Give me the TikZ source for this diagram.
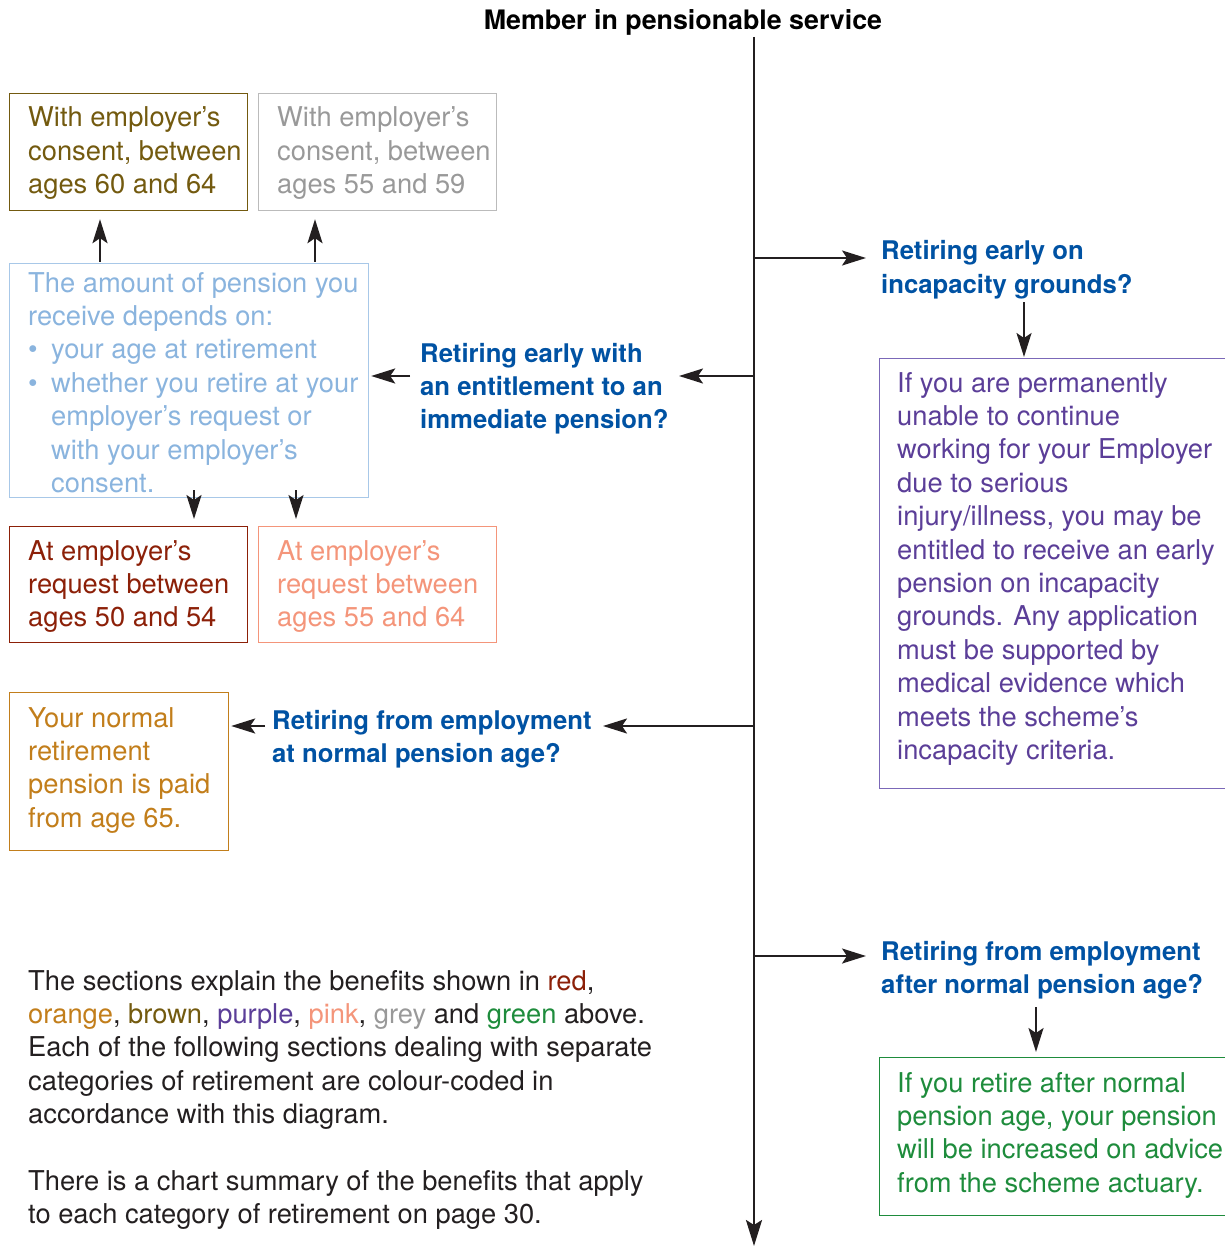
\documentclass[tikz,border=0pt]{standalone}
\usepackage{fontspec}
\setmainfont{TeX Gyre Heros}
\usetikzlibrary{arrows.meta}
\definecolor{ink}{HTML}{231F20}
\definecolor{cblue}{HTML}{0052A3}
\definecolor{cbrown}{HTML}{735A0F}
\definecolor{cgrey}{HTML}{999999}
\definecolor{cgreyb}{HTML}{BBBBBB}
\definecolor{clblue}{HTML}{8AB4DE}
\definecolor{clblueb}{HTML}{A8C8E8}
\definecolor{cred}{HTML}{8C2008}
\definecolor{cpink}{HTML}{F4957A}
\definecolor{corange}{HTML}{C27E1B}
\definecolor{cpurple}{HTML}{5B3E98}
\definecolor{cpurpleb}{HTML}{7B68B8}
\definecolor{cgreen}{HTML}{1E8C3C}
\newcommand{\regf}{\fontsize{27.3}{33.4}\selectfont}
\newcommand{\bldf}{\fontsize{25.7}{33.4}\selectfont\bfseries}
\newcommand{\tb}[1]{\parbox[t]{760pt}{#1}}
\tikzset{
  >={Stealth[length=24pt,width=15pt,inset=5pt]},
  arr/.style={draw=ink, line width=2pt, ->},
  mainline/.style={draw=ink, line width=2.6pt},
  box/.style={rectangle, line width=1.2pt, inner sep=0pt, anchor=north west},
  txt/.style={inner sep=0pt, anchor=base west, font=\regf},
  qtxt/.style={inner sep=0pt, anchor=base west, font=\bldf, text=cblue}}
\begin{document}
\begin{tikzpicture}[x=1pt,y=-1pt]
\useasboundingbox (0,0) rectangle (1224,1246);

% title and main line
\node[inner sep=0pt, anchor=base, font=\bfseries\fontsize{26.8}{30}\selectfont, text=black] (title) at (683,30) {Member in pensionable service};
\coordinate (mtop) at (754,37);
\coordinate (mbot) at (754,1246);
\draw[mainline, -{Stealth[length=26pt,width=16pt,inset=5pt]}] (mtop) -- (mbot);

% junctions on main line
\coordinate (j1) at (754,258);
\coordinate (j2) at (754,376);
\coordinate (j3) at (754,726);
\coordinate (j4) at (754,956);

% question texts
\node[qtxt] (q1) at (881,260) {\tb{Retiring early on\\incapacity grounds?}};
\node[qtxt] (q2) at (420,362) {\tb{Retiring early with\\an entitlement to an\\immediate pension?}};
\node[qtxt] (q3) at (272,729) {\tb{Retiring from employment\\at normal pension age?}};
\node[qtxt] (q4) at (881,960) {\tb{Retiring from employment\\after normal pension age?}};

% boxes
\node[box, draw=cbrown, minimum width=238pt, minimum height=117pt] (bbrown) at (9,93) {};
\node[box, draw=cgreyb, minimum width=238pt, minimum height=117pt] (bgrey) at (258,93) {};
\node[box, draw=clblueb, minimum width=359pt, minimum height=234pt] (blblue) at (9,263) {};
\node[box, draw=cred, minimum width=238pt, minimum height=116pt] (bred) at (9,526) {};
\node[box, draw=cpink, minimum width=238pt, minimum height=116pt] (bpink) at (258,526) {};
\node[box, draw=corange, minimum width=219pt, minimum height=158pt] (borange) at (9,692) {};
\node[box, draw=cpurpleb, minimum width=360pt, minimum height=430pt] (bpurple) at (879,358) {};
\node[box, draw=cgreen, minimum width=360pt, minimum height=158pt] (bgreen) at (879,1057) {};

% box texts
\node[txt, text=cbrown] (tbrown) at (28,127) {\tb{With employer’s\\consent, between\\ages 60 and 64}};
\node[txt, text=cgrey] (tgrey) at (277,127) {\tb{With employer’s\\consent, between\\ages 55 and 59}};
\node[txt, text=clblue] (tlblue) at (28,292) {\tb{The amount of pension you\\receive depends on:\\\makebox[23pt][l]{•}your age at retirement\\\makebox[23pt][l]{•}whether you retire at your\\\hspace*{23pt}employer’s request or\\\hspace*{23pt}with your employer’s\\\hspace*{23pt}consent.}};
\node[txt, text=cred] (tred) at (28,560) {\tb{At employer’s\\request between\\ages 50 and 54}};
\node[txt, text=cpink] (tpink) at (277,560) {\tb{At employer’s\\request between\\ages 55 and 64}};
\node[txt, text=corange] (torange) at (28,727) {\tb{Your normal\\retirement\\pension is paid\\from age 65.}};
\node[txt, text=cpurple] (tpurple) at (897,392) {\tb{If you are permanently\\unable to continue\\working for your Employer\\due to serious\\injury/illness, you may be\\entitled to receive an early\\pension on incapacity\\grounds. Any application\\must be supported by\\medical evidence which\\meets the scheme’s\\incapacity criteria.}};
\node[txt, text=cgreen] (tgreen) at (897,1092) {\tb{If you retire after normal\\pension age, your pension\\will be increased on advice\\from the scheme actuary.}};

% note
\node[txt, text=ink] (note) at (28,990) {\tb{The sections explain the benefits shown in \textcolor{cred}{red},\\\textcolor{corange}{orange}, \textcolor{cbrown}{brown}, \textcolor{cpurple}{purple}, \textcolor{cpink}{pink}, \textcolor{cgrey}{grey} and \textcolor{cgreen}{green} above.\\Each of the following sections dealing with separate\\categories of retirement are colour-coded in\\accordance with this diagram.\\[33.4pt]There is a chart summary of the benefits that apply\\to each category of retirement on page 30.}};

% connector end points
\coordinate (e1) at (866,258);
\coordinate (e2) at (679,376);
\coordinate (e3) at (603,726);
\coordinate (e4) at (866,956);

\draw[arr] (j1) -- (e1);
\draw[arr] (j2) -- (e2);
\draw[arr] (j3) -- (e3);
\draw[arr] (j4) -- (e4);

% secondary arrows
\coordinate (s1a) at (1024,302);
\draw[arr] (s1a) -- ([yshift=1pt]s1a |- bpurple.north);
\coordinate (s4a) at (1036,1007);
\draw[arr] (s4a) -- ([yshift=5pt]s4a |- bgreen.north);
\coordinate (s2a) at (410,376);
\draw[arr] (s2a) -- ([xshift=2pt]blblue.east |- s2a);
\coordinate (s3a) at (265,726);
\draw[arr] (s3a) -- ([xshift=2pt]borange.east |- s3a);
\draw[arr] ([yshift=1pt]blblue.north -| 100,0) -- ([yshift=-8pt]bbrown.south -| 100,0);
\draw[arr] ([yshift=1pt]blblue.north -| 315,0) -- ([yshift=-8pt]bgrey.south -| 315,0);
\draw[arr] ([yshift=8pt]blblue.south -| 194,0) -- ([yshift=7pt]bred.north -| 194,0);
\draw[arr] ([yshift=8pt]blblue.south -| 296,0) -- ([yshift=7pt]bpink.north -| 296,0);
\end{tikzpicture}
\end{document}
